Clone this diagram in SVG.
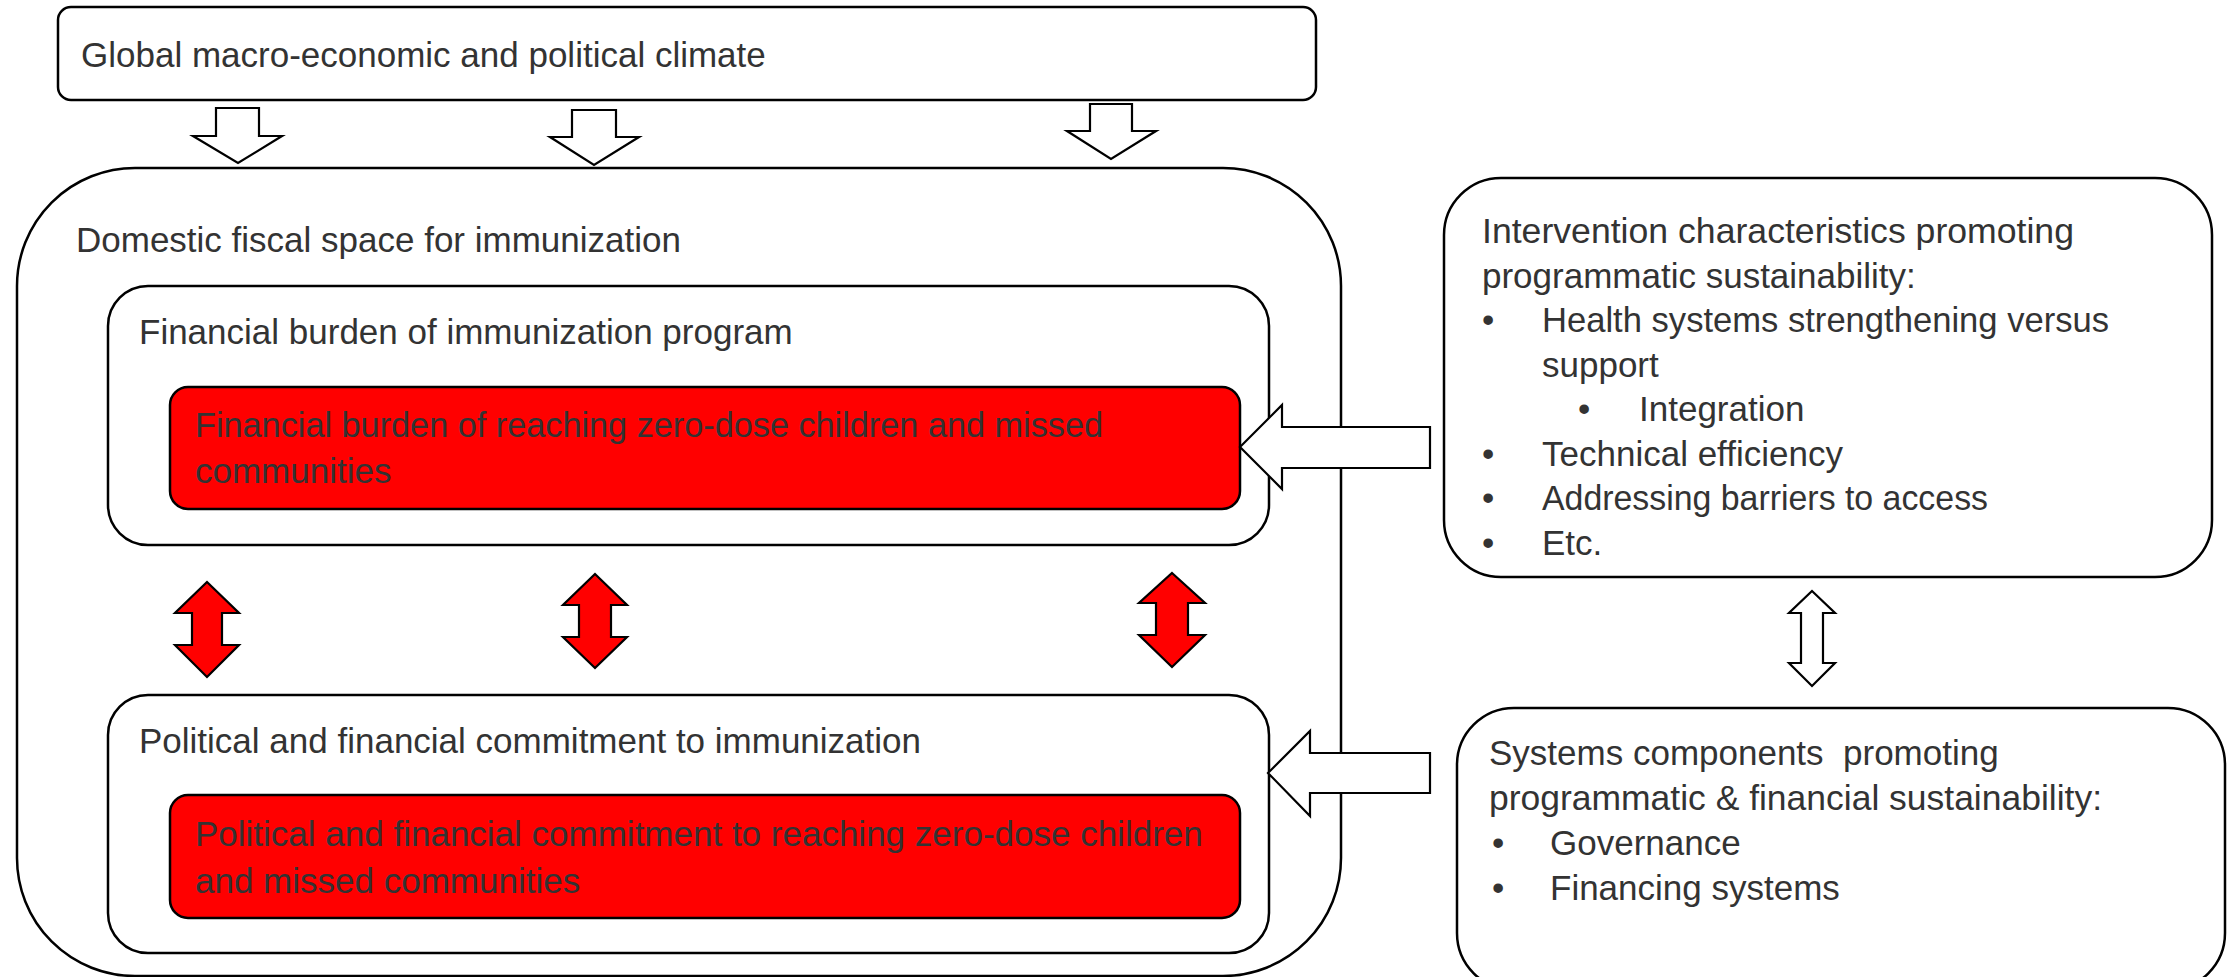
<svg xmlns="http://www.w3.org/2000/svg" width="2233" height="977" viewBox="0 0 2233 977">
<style>
text{font-family:"Liberation Sans",Arial,sans-serif;font-size:35px;fill:#333333}
.box{fill:#ffffff;stroke:#000000;stroke-width:2.5}
.red{fill:#ff0000;stroke:#000000;stroke-width:2.5}
.wa{fill:#ffffff;stroke:#000000;stroke-width:2.2;stroke-linejoin:miter}
.ra{fill:#ff0000;stroke:#000000;stroke-width:2.2;stroke-linejoin:miter}
</style>
<rect width="2233" height="977" fill="#ffffff"/>
<g id="global">
<rect class="box" x="58" y="7" width="1258" height="93" rx="13" ry="13"/>
<text x="81" y="67">Global macro-economic and political climate</text>
</g>
<g id="domestic">
<rect class="box" x="17" y="168" width="1324" height="808" rx="118" ry="118"/>
<text x="76" y="252">Domestic fiscal space for immunization</text>
</g>
<g id="burden">
<rect class="box" x="108" y="286" width="1161" height="259" rx="40" ry="40"/>
<text x="139" y="344">Financial burden of immunization program</text>
</g>
<g id="burden-zero">
<rect class="red" x="170" y="387" width="1070" height="122" rx="18" ry="18"/>
<text x="195" y="437" textLength="908" lengthAdjust="spacingAndGlyphs">Financial burden of reaching zero-dose children and missed</text>
<text x="195" y="483">communities</text>
</g>
<g id="commitment">
<rect class="box" x="108" y="695" width="1161" height="258" rx="40" ry="40"/>
<text x="139" y="753">Political and financial commitment to immunization</text>
</g>
<g id="commitment-zero">
<rect class="red" x="170" y="795" width="1070" height="123" rx="18" ry="18"/>
<text x="195" y="846">Political and financial commitment to reaching zero-dose children</text>
<text x="195" y="893">and missed communities</text>
</g>
<g id="intervention">
<rect class="box" x="1444" y="178" width="768" height="399" rx="57" ry="57"/>
<text x="1482" y="243" textLength="592" lengthAdjust="spacingAndGlyphs">Intervention characteristics promoting</text>
<text x="1482" y="288">programmatic sustainability:</text>
<text x="1482" y="332">•</text><text x="1542" y="332" textLength="567" lengthAdjust="spacingAndGlyphs">Health systems strengthening versus</text>
<text x="1542" y="377">support</text>
<text x="1578" y="421">•</text><text x="1639" y="421">Integration</text>
<text x="1482" y="466">•</text><text x="1542" y="466">Technical efficiency</text>
<text x="1482" y="510">•</text><text x="1542" y="510" textLength="446" lengthAdjust="spacingAndGlyphs">Addressing barriers to access</text>
<text x="1482" y="555">•</text><text x="1542" y="555">Etc.</text>
</g>
<g id="systems">
<rect class="box" x="1457" y="708" width="768" height="282" rx="57" ry="57"/>
<text x="1489" y="765" xml:space="preserve">Systems components  promoting</text>
<text x="1489" y="810" textLength="613" lengthAdjust="spacingAndGlyphs">programmatic &amp; financial sustainability:</text>
<text x="1492" y="855">•</text><text x="1550" y="855">Governance</text>
<text x="1492" y="900">•</text><text x="1550" y="900">Financing systems</text>
</g>
<g id="connectors">
<polygon class="wa" points="216,108 259,108 259,136 282,136 238,163 193,136 216,136"/>
<polygon class="wa" points="572,110 616,110 616,137 639,137 594,165 550,137 572,137"/>
<polygon class="wa" points="1090,104 1132,104 1132,131 1156,131 1111,159 1067,131 1090,131"/>
<polygon class="ra" points="207,582 239,613 222,613 222,645 239,645 207,677 175,645 192,645 192,613 175,613"/>
<polygon class="ra" points="595,574 627,605 611,605 611,637 627,637 595,668 563,637 579,637 579,605 563,605"/>
<polygon class="ra" points="1172,573 1205,603 1188,603 1188,635 1205,635 1172,667 1139,635 1156,635 1156,603 1139,603"/>
<polygon class="wa" points="1812,591 1835,613 1823,613 1823,663 1835,663 1812,686 1789,663 1801,663 1801,613 1789,613"/>
<polygon class="wa" points="1240,447 1282,405 1282,427 1430,427 1430,468 1282,468 1282,489"/>
<polygon class="wa" points="1268,773 1310,731 1310,753 1430,753 1430,793 1310,793 1310,816"/>
</g>
</svg>
